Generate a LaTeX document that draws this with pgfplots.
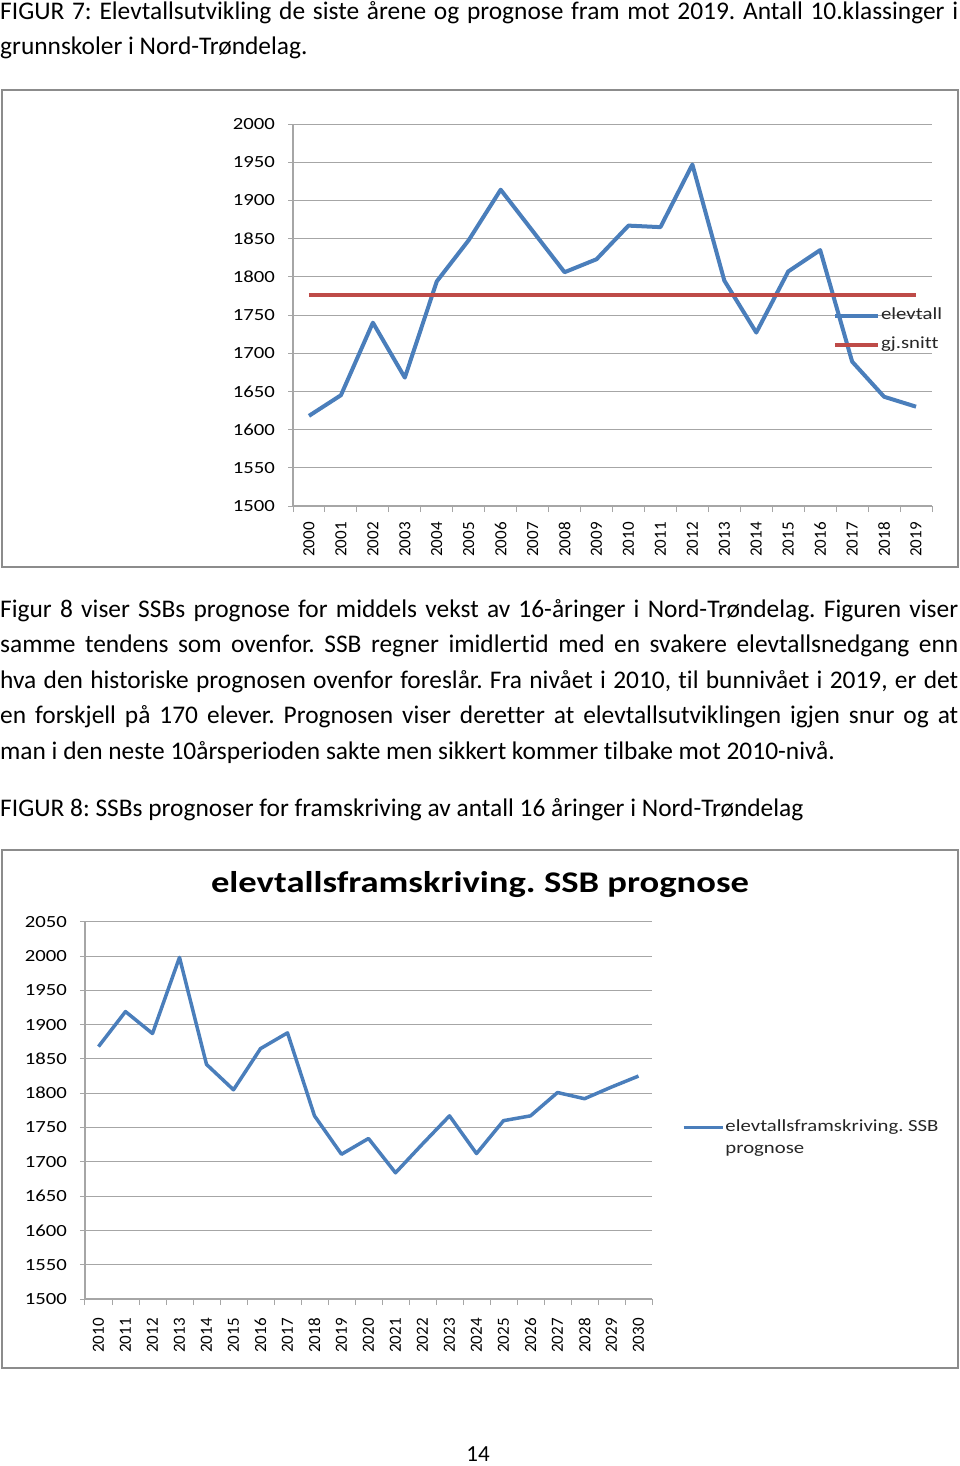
\documentclass[border=0pt]{standalone}
\usepackage{pgfplots}
\pgfplotsset{compat=1.18}
\usepackage{fontspec}
\setmainfont{Carlito}[Ligatures=NoCommon]
\definecolor{xlblue}{HTML}{4A7EBB}
\definecolor{xlred}{HTML}{BE4B48}
\definecolor{gridgray}{HTML}{A6A6A6}
\definecolor{framegray}{HTML}{8C8C8C}
\newcommand{\hs}[1]{\scalebox{1.22}[1]{#1}}
\newcommand{\bodyfont}{\fontsize{25.4}{35}\selectfont}
\newcommand{\chartfont}{\fontsize{17}{20}\selectfont}
\frenchspacing

\begin{document}
\begin{tikzpicture}[x=1pt,y=1pt]
\path (0,0) rectangle (960,-1466);
% ---------- text ----------
\node[anchor=base west, inner sep=0] at (0,-20) {\bodyfont\makebox[958pt][s]{FIGUR 7: Elevtallsutvikling de siste årene og prognose fram mot 2019. Antall 10.klassinger i}};
\node[anchor=base west, inner sep=0] at (0,-55) {\bodyfont grunnskoler i Nord-Trøndelag.};
\node[anchor=base west, inner sep=0] at (0,-617) {\bodyfont\makebox[958pt][s]{Figur 8 viser SSBs prognose for middels vekst av 16-åringer i Nord-Trøndelag. Figuren viser}};
\node[anchor=base west, inner sep=0] at (0,-652.5) {\bodyfont\makebox[958pt][s]{samme tendens som ovenfor. SSB regner imidlertid med en svakere elevtallsnedgang enn}};
\node[anchor=base west, inner sep=0] at (0,-688) {\bodyfont\makebox[958pt][s]{hva den historiske prognosen ovenfor foreslår. Fra nivået i 2010, til bunnivået i 2019, er det}};
\node[anchor=base west, inner sep=0] at (0,-723.5) {\bodyfont\makebox[958pt][s]{en forskjell på 170 elever. Prognosen viser deretter at elevtallsutviklingen igjen snur og at}};
\node[anchor=base west, inner sep=0] at (0,-759) {\bodyfont man i den neste 10årsperioden sakte men sikkert kommer tilbake mot 2010-nivå.};
\node[anchor=base west, inner sep=0] at (0,-816) {\bodyfont FIGUR 8: SSBs prognoser for framskriving av antall 16 åringer i Nord-Trøndelag};
\node[anchor=base, inner sep=0] at (478,-1461) {\fontsize{23}{26}\selectfont 14};
% ---------- frames ----------
\draw[framegray, line width=1.5pt] (2,-90) rectangle (958,-567);
\draw[framegray, line width=1.5pt] (2,-850) rectangle (958,-1368);
\node[anchor=base, inner sep=0] at (480,-892) {\fontsize{30}{34}\selectfont\bfseries\hs{elevtallsframskriving. SSB prognose}};

% ---------- chart 1 ----------
\begin{axis}[
  at={(293pt,-506pt)}, anchor=south west, scale only axis,
  width=639pt, height=382pt,
  xmin=-0.5, xmax=19.5, ymin=1500, ymax=2000,
  xtick={0,1,...,19},
  xticklabels={2000,2001,2002,2003,2004,2005,2006,2007,2008,2009,2010,2011,2012,2013,2014,2015,2016,2017,2018,2019},
  x tick label style={rotate=90, anchor=east, font=\chartfont, inner sep=1pt, xshift=-10pt},
  major x tick style={draw=none},
  minor xtick={-0.5,0.5,...,19.5},
  ytick={1500,1550,...,2000},
  yticklabels={\hs{1500},\hs{1550},\hs{1600},\hs{1650},\hs{1700},\hs{1750},\hs{1800},\hs{1850},\hs{1900},\hs{1950},\hs{2000}},
  y tick label style={font=\chartfont, inner sep=1pt, xshift=-12pt},
  ymajorgrids, grid style={gridgray, line width=1pt},
  axis lines*=left, axis line style={gridgray, line width=1.2pt},
  tick align=outside, major tick length=5pt, minor tick length=6pt,
  tick style={gridgray, line width=1pt},
  clip=false,
  legend style={at={(0.845,0.522)}, anchor=north west, draw=none, fill=none,
    font=\chartfont, inner sep=0pt, row sep=11pt,
    nodes={inner sep=1pt, text height=12pt, text depth=4pt, text=black!85}},
  legend image code/.code={\draw[#1] (0pt,0pt) -- (43pt,0pt);},
  legend cell align=left,
]
\addplot[xlblue, line width=4pt, line join=round] coordinates {
(0,1618) (1,1645) (2,1740) (3,1668) (4,1794) (5,1848) (6,1914) (7,1860) (8,1806) (9,1823)
(10,1867) (11,1865) (12,1947) (13,1795) (14,1727) (15,1807) (16,1835) (17,1689) (18,1643) (19,1630)};
\addlegendentry{\hs{elevtall}}
\addplot[xlred, line width=3.5pt] coordinates {
(0,1776) (1,1776) (2,1776) (3,1776) (4,1776) (5,1776) (6,1776) (7,1776) (8,1776) (9,1776)
(10,1776) (11,1776) (12,1776) (13,1776) (14,1776) (15,1776) (16,1776) (17,1776) (18,1776) (19,1776)};
\addlegendentry{\hs{gj.snitt}}
\end{axis}

% ---------- chart 2 ----------
\begin{axis}[
  at={(85pt,-1299pt)}, anchor=south west, scale only axis,
  width=567pt, height=377.3pt,
  xmin=-0.5, xmax=20.5, ymin=1500, ymax=2050,
  xtick={0,1,...,20},
  xticklabels={2010,2011,2012,2013,2014,2015,2016,2017,2018,2019,2020,2021,2022,2023,2024,2025,2026,2027,2028,2029,2030},
  x tick label style={rotate=90, anchor=east, font=\chartfont, inner sep=1pt, xshift=-13pt},
  major x tick style={draw=none},
  minor xtick={-0.5,0.5,...,20.5},
  ytick={1500,1550,...,2050},
  yticklabels={\hs{1500},\hs{1550},\hs{1600},\hs{1650},\hs{1700},\hs{1750},\hs{1800},\hs{1850},\hs{1900},\hs{1950},\hs{2000},\hs{2050}},
  y tick label style={font=\chartfont, inner sep=1pt, xshift=-12pt},
  ymajorgrids, grid style={gridgray, line width=1pt},
  axis lines*=left, axis line style={gridgray, line width=1.2pt},
  tick align=outside, major tick length=5pt, minor tick length=6pt,
  tick style={gridgray, line width=1pt},
  clip=false,
  legend style={at={(1.0525,0.479)}, anchor=north west, draw=none, fill=none,
    font=\chartfont, inner sep=0pt, row sep=4pt,
    nodes={inner sep=1pt, text height=12pt, text depth=4pt, text=black!85}},
  legend image code/.code={\draw[#1] (0pt,0pt) -- (39pt,0pt);},
  legend cell align=left,
]
\addplot[xlblue, line width=3.5pt, line join=round] coordinates {
(0,1868) (1,1919) (2,1887) (3,1998) (4,1842) (5,1805) (6,1865) (7,1888) (8,1767) (9,1711)
(10,1734) (11,1684) (12,1726) (13,1767) (14,1712) (15,1760) (16,1767) (17,1801) (18,1792) (19,1809) (20,1825)};
\addlegendentry{\hs{elevtallsframskriving. SSB}}
\addlegendimage{white, opacity=0, line width=0pt}
\addlegendentry{\hs{prognose}}
\end{axis}
\end{tikzpicture}
\end{document}
